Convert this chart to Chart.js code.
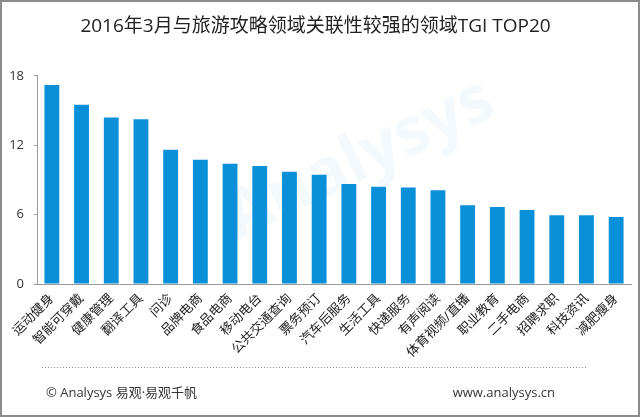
<!DOCTYPE html>
<html>
<head>
<meta charset="utf-8">
<script src="https://cdn.jsdelivr.net/npm/chart.js@4/dist/chart.umd.min.js"></script>
<style>
  html, body { margin: 0; padding: 0; background: #fff; }
  #wrap { width: 640px; height: 417px; position: relative; }
</style>
</head>
<body>
<div id="wrap"><canvas id="tgiChart" width="640" height="417"></canvas></div>
<script>
// data
const categories = ['运动健身', '智能可穿戴', '健康管理', '翻译工具', '问诊', '品牌电商', '食品电商', '移动电台',
    '公共交通查询', '票务预订', '汽车后服务', '生活工具', '快递服务', '有声阅读', '体育视频/直播', '职业教育',
    '二手电商', '招聘求职', '科技资讯', '减肥瘦身'];
const tgiValues = [17.2, 15.5, 14.4, 14.25, 11.6, 10.75, 10.4, 10.2, 9.7, 9.45, 8.65, 8.4, 8.35, 8.1, 6.8, 6.65, 6.4, 5.95, 5.95, 5.8];
const yTicks = [0, 6, 12, 18];
const chartTitle = '2016年3月与旅游攻略领域关联性较强的领域TGI TOP20';
const footLeft = '© Analysys 易观·易观千帆';
const footRight = 'www.analysys.cn';

const FONT = '"Open Sans", "Noto Sans CJK SC", sans-serif';

const decorPlugin = {   // watermark, footer and frame
    id: 'decor',
    beforeDatasetsDraw(chart) {
        const ctx = chart.ctx;
        ctx.save();
        ctx.translate(360, 160);
        ctx.rotate(-0.45);
        ctx.font = 'bold 66px ' + FONT;
        ctx.fillStyle = 'rgba(10,143,216,0.05)';
        ctx.textAlign = 'center';
        ctx.textBaseline = 'middle';
        ctx.fillText('Analysys', 0, 0);
        ctx.restore();
    },
    afterDraw(chart) {
        const ctx = chart.ctx;
        ctx.save();
        // dotted separator
        ctx.strokeStyle = '#8a8a8a';
        ctx.lineWidth = 1;
        ctx.setLineDash([1, 2]);
        ctx.beginPath();
        ctx.moveTo(42, 367.5);
        ctx.lineTo(588, 367.5);
        ctx.stroke();
        ctx.setLineDash([]);
        // footer text
        ctx.font = '13px ' + FONT;
        ctx.fillStyle = '#333';
        ctx.textBaseline = 'middle';
        ctx.textAlign = 'left';
        ctx.fillText(footLeft, 46, 393);
        ctx.textAlign = 'right';
        ctx.fillText(footRight, 555, 393);
        // frame
        ctx.strokeStyle = '#8c8c8c';
        ctx.lineWidth = 2;
        ctx.strokeRect(1, 1, 638, 415);
        ctx.restore();
    }
};

const ctx = document.getElementById('tgiChart').getContext('2d');
const tgiChart = new Chart(ctx, {
    type: 'bar',
    data: {
        labels: categories,
        datasets: [{
            label: 'TGI',
            data: tgiValues,
            backgroundColor: '#0a90d8',
            categoryPercentage: 1,
            barPercentage: 0.5
        }]
    },
    options: {
        responsive: false,
        animation: false,
        layout: { padding: { left: 0, right: 9, top: 0, bottom: 0 } },
        plugins: {
            legend: { display: false },
            tooltip: { enabled: false },
            title: {
                display: true,
                text: chartTitle,
                color: '#222',
                font: { family: FONT, size: 19, weight: 'normal' },
                padding: { top: 15, bottom: 38 }
            }
        },
        scales: {
            x: {
                grid: { display: false, drawTicks: false },
                border: { color: '#9a9a9a', width: 1 },
                ticks: {
                    autoSkip: false,
                    maxRotation: 45,
                    minRotation: 45,
                    padding: 7,
                    color: '#222',
                    font: { family: FONT, size: 13 }
                },
                afterFit(scale) { scale.height = 133; }
            },
            y: {
                min: 0,
                max: 18,
                afterBuildTicks(scale) { scale.ticks = yTicks.map(v => ({ value: v })); },
                grid: { drawOnChartArea: false, drawTicks: true, tickLength: 3, color: '#9a9a9a' },
                border: { color: '#9a9a9a', width: 1 },
                ticks: {
                    padding: 10,
                    color: '#333',
                    font: { family: FONT, size: 13 }
                },
                afterFit(scale) { scale.width = 37; }
            }
        }
    },
    plugins: [decorPlugin]
});
</script>
</body>
</html>
